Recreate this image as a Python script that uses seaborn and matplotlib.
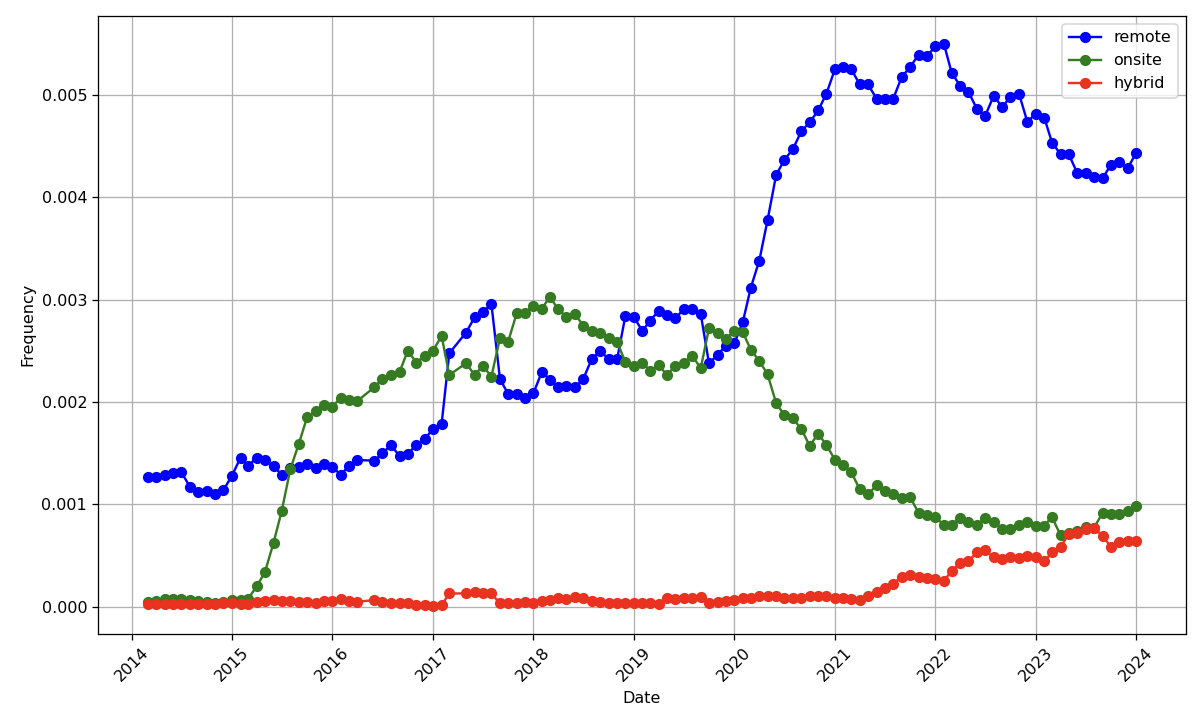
import pandas as pd
import matplotlib
matplotlib.use("Agg")
import matplotlib.pyplot as plt
import seaborn as sns

# Monthly dates (2016-05 and 2017-04 are missing in the source data)
months = pd.date_range("2014-03-01", "2024-01-01", freq="MS")
months = months[~months.isin(pd.to_datetime(["2016-05-01", "2017-04-01"]))]

# values in units of 1e-3
remote = [
    1.264, 1.270, 1.287, 1.303, 1.313, 1.173, 1.124, 1.130, 1.104, 1.140,
    1.280, 1.456, 1.378, 1.456, 1.430, 1.375, 1.287, 1.358, 1.362, 1.394, 1.352, 1.397,
    1.365, 1.287, 1.378, 1.433, 1.427, 1.498, 1.580, 1.472, 1.492, 1.580, 1.635,
    1.739, 1.785, 2.476, 2.678, 2.827, 2.876, 2.958, 2.228, 2.075, 2.075, 2.036,
    2.088, 2.296, 2.218, 2.150, 2.160, 2.143, 2.225, 2.420, 2.502, 2.417, 2.417, 2.840,
    2.827, 2.694, 2.795, 2.889, 2.850, 2.818, 2.906, 2.906, 2.860, 2.378, 2.459, 2.550,
    2.571, 2.780, 3.116, 3.381, 3.777, 4.215, 4.364, 4.469, 4.645, 4.731, 4.847, 5.011,
    5.251, 5.273, 5.251, 5.101, 5.101, 4.963, 4.963, 4.963, 5.176, 5.269, 5.393, 5.374,
    5.475, 5.497, 5.217, 5.086, 5.030, 4.862, 4.794, 4.989, 4.880, 4.981, 5.011, 4.738,
    4.813, 4.776, 4.533, 4.420, 4.420, 4.233, 4.233, 4.196, 4.185, 4.316, 4.346, 4.282,
    4.432,
]

onsite = [
    0.050, 0.060, 0.080, 0.080, 0.080, 0.070, 0.060, 0.050, 0.040, 0.050,
    0.070, 0.070, 0.080, 0.200, 0.340, 0.625, 0.938, 1.342, 1.593, 1.850, 1.910, 1.974,
    1.954, 2.042, 2.020, 2.010, 2.143, 2.225, 2.264, 2.290, 2.502, 2.384, 2.450,
    2.502, 2.645, 2.264, 2.378, 2.264, 2.355, 2.248, 2.622, 2.590, 2.866, 2.873,
    2.938, 2.910, 3.029, 2.903, 2.831, 2.857, 2.746, 2.694, 2.678, 2.629, 2.590, 2.388,
    2.355, 2.384, 2.306, 2.362, 2.264, 2.355, 2.378, 2.453, 2.329, 2.720, 2.671, 2.616,
    2.697, 2.680, 2.510, 2.401, 2.270, 1.990, 1.870, 1.840, 1.735, 1.571, 1.690, 1.578,
    1.436, 1.384, 1.316, 1.148, 1.099, 1.185, 1.129, 1.099, 1.062, 1.073, 0.916, 0.898,
    0.879, 0.797, 0.800, 0.868, 0.830, 0.800, 0.868, 0.823, 0.763, 0.763, 0.800, 0.823,
    0.793, 0.793, 0.875, 0.699, 0.718, 0.737, 0.782, 0.774, 0.916, 0.905, 0.905, 0.935,
    0.987,
]

hybrid = [
    0.026, 0.029, 0.029, 0.026, 0.026, 0.023, 0.023, 0.026, 0.029, 0.033,
    0.033, 0.029, 0.026, 0.049, 0.059, 0.065, 0.059, 0.055, 0.049, 0.042, 0.039, 0.055,
    0.055, 0.072, 0.055, 0.049, 0.065, 0.049, 0.039, 0.039, 0.033, 0.016, 0.016,
    0.010, 0.016, 0.130, 0.130, 0.147, 0.130, 0.130, 0.033, 0.039, 0.033, 0.049,
    0.036, 0.052, 0.065, 0.081, 0.075, 0.091, 0.081, 0.055, 0.049, 0.039, 0.033, 0.039,
    0.033, 0.033, 0.039, 0.026, 0.081, 0.072, 0.081, 0.088, 0.098, 0.039, 0.049, 0.055,
    0.064, 0.085, 0.090, 0.101, 0.108, 0.101, 0.090, 0.090, 0.090, 0.101, 0.108, 0.108,
    0.090, 0.082, 0.075, 0.064, 0.101, 0.146, 0.183, 0.224, 0.295, 0.307, 0.288, 0.277,
    0.269, 0.251, 0.352, 0.426, 0.445, 0.531, 0.550, 0.482, 0.464, 0.482, 0.475, 0.494,
    0.482, 0.445, 0.531, 0.587, 0.707, 0.725, 0.755, 0.774, 0.688, 0.587, 0.636, 0.643,
    0.643,
]

df = pd.DataFrame({
    "Date": months,
    "remote": [v / 1000 for v in remote],
    "onsite": [v / 1000 for v in onsite],
    "hybrid": [v / 1000 for v in hybrid],
})

colors = {"remote": "#0000ff", "onsite": "#357b22", "hybrid": "#e9321f"}

dpi = 115
plt.figure(figsize=(1200 / dpi, 717 / dpi), dpi=dpi)
ax = plt.gca()
for col in ["remote", "onsite", "hybrid"]:
    sns.lineplot(data=df, x="Date", y=col, marker="o", color=colors[col],
                 markeredgecolor=colors[col], markeredgewidth=1, markersize=6,
                 linewidth=1.5, label=col, ax=ax)

ax.set_xlabel("Date")
ax.set_ylabel("Frequency")
plt.xticks(rotation=45)
plt.grid(True)
plt.legend(loc="upper right")
plt.subplots_adjust(left=0.082, right=0.988, top=0.978, bottom=0.116)
plt.savefig("out.png", dpi=dpi)
plt.close()
